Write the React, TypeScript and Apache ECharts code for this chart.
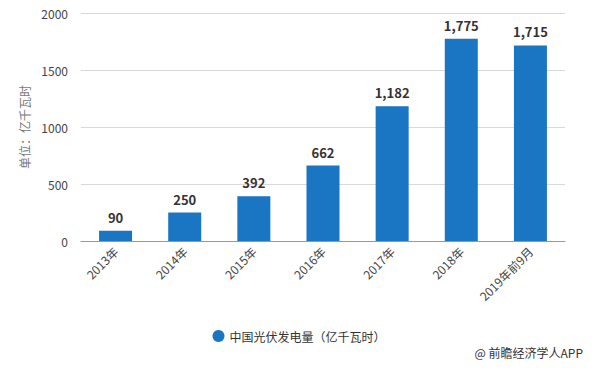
import React, { useEffect, useRef } from "react";
import * as echarts from "echarts";

const categories = ["2013年", "2014年", "2015年", "2016年", "2017年", "2018年", "2019年前9月"];
const values = [90, 250, 392, 662, 1182, 1775, 1715];
const seriesName = "中国光伏发电量（亿千瓦时）";
const yAxisName = "单位：亿千瓦时";
const sourceText = "@ 前瞻经济学人APP";

export default function App() {
  const ref = useRef<HTMLDivElement>(null);
  useEffect(() => {
    if (!ref.current) return;
    const chart = echarts.init(ref.current, undefined, { renderer: "svg" });
    chart.setOption({
      animation: false,
      backgroundColor: "#ffffff",
      textStyle: { fontFamily: "'Noto Sans CJK SC', sans-serif" },
      grid: { left: 81, right: 33, top: 13, bottom: 132, containLabel: false },
      legend: {
        data: [seriesName],
        left: "center",
        top: 325,
        icon: "circle",
        itemWidth: 12,
        itemHeight: 12,
        textStyle: { fontSize: 12, color: "#333" },
      },
      graphic: [
        {
          type: "text",
          right: 15,
          top: 346,
          style: { text: sourceText, fontSize: 12, fill: "#333", fontFamily: "'Noto Sans CJK SC', sans-serif" },
        },
      ],
      xAxis: {
        type: "category",
        data: categories,
        axisLine: { lineStyle: { color: "#999" } },
        axisTick: { alignWithLabel: true, lineStyle: { color: "#999" } },
        axisLabel: { rotate: 45, fontSize: 12, color: "#444", margin: 8, interval: 0 },
      },
      yAxis: {
        type: "value",
        min: 0,
        max: 2000,
        interval: 500,
        name: yAxisName,
        nameLocation: "middle",
        nameGap: 50,
        nameTextStyle: { color: "#777", fontSize: 12 },
        axisLine: { show: false },
        axisTick: { show: false },
        axisLabel: { color: "#444", fontSize: 12, margin: 13, formatter: (v: number) => String(v) },
        splitLine: { lineStyle: { color: "#d9d9d9" } },
      },
      series: [
        {
          name: seriesName,
          type: "bar",
          data: values,
          barWidth: 33,
          itemStyle: { color: "#1a75c2" },
          label: {
            show: true,
            position: "top",
            distance: 7,
            fontSize: 13,
            fontWeight: "bold",
            color: "#333",
            formatter: (p: any) => Number(p.value).toLocaleString("en-US"),
          },
        },
      ],
    });
    return () => chart.dispose();
  }, []);
  return (
    <div
      ref={ref}
      style={{ position: "fixed", left: 0, top: 0, width: 598, height: 373 }}
    />
  );
}
